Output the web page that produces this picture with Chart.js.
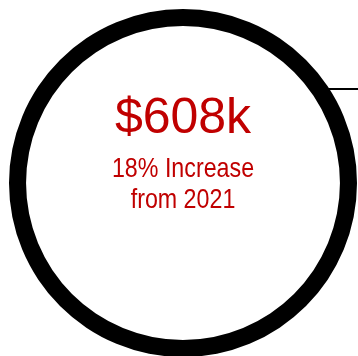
<!DOCTYPE html>
<html lang="en">
<head>
  <meta charset="UTF-8" />
  <meta name="viewport" content="width=device-width, initial-scale=1" />
  <title>Revenue</title>
  <script src="https://cdn.jsdelivr.net/npm/chart.js"></script>
  <style>
    html, body { margin: 0; padding: 0; background: #fff; overflow: hidden; }
    #wrap { position: relative; width: 358px; height: 356px; overflow: hidden; }
    #ring { position: absolute; left: 0; top: 0; }
    #leader { position: absolute; left: 328px; top: 88px; width: 40px; height: 2px; background: #000; }
  </style>
</head>
<body>
  <div id="wrap">
    <canvas id="ring" width="366" height="366"></canvas>
    <div id="leader"></div>
  </div>

  <script>
    const labels = ['Revenue'];
    const amounts = [608];
    const headline = '$608k';
    const subLines = ['18% Increase', 'from 2021'];

    const red = '#c00000';

    // narrow text: squeeze horizontally around the centre x
    function narrowText(ctx, text, x, y, squeeze) {
      ctx.save();
      ctx.translate(x, y);
      ctx.scale(squeeze, 1);
      ctx.fillText(text, 0, 0);
      ctx.restore();
    }

    // text in the hole of the ring
    const centerText = {
      id: 'centerText',
      afterDraw(chart) {
        const meta = chart.getDatasetMeta(0).data[0];
        const cx = meta.x, cy = meta.y;
        const ctx = chart.ctx;
        ctx.save();
        ctx.fillStyle = red;
        ctx.textAlign = 'center';
        ctx.textBaseline = 'alphabetic';
        ctx.font = '50px "Liberation Sans", Arial, sans-serif';
        ctx.fillText(headline, cx, cy - 50);
        ctx.font = '28px "Liberation Sans", Arial, sans-serif';
        narrowText(ctx, subLines[0], cx, cy - 6, 0.83);
        narrowText(ctx, subLines[1], cx, cy + 25, 0.83);
        ctx.restore();
      }
    };

    new Chart(document.getElementById('ring').getContext('2d'), {
      type: 'doughnut',
      data: {
        labels: labels,
        datasets: [{
          data: amounts,
          backgroundColor: '#000',
          borderWidth: 0
        }]
      },
      options: {
        responsive: false,
        animation: false,
        rotation: -90,
        radius: 174,
        cutout: '90.2%',
        layout: { padding: 0 },
        plugins: {
          legend: { display: false },
          tooltip: { enabled: false }
        }
      },
      plugins: [centerText]
    });
  </script>
</body>
</html>
